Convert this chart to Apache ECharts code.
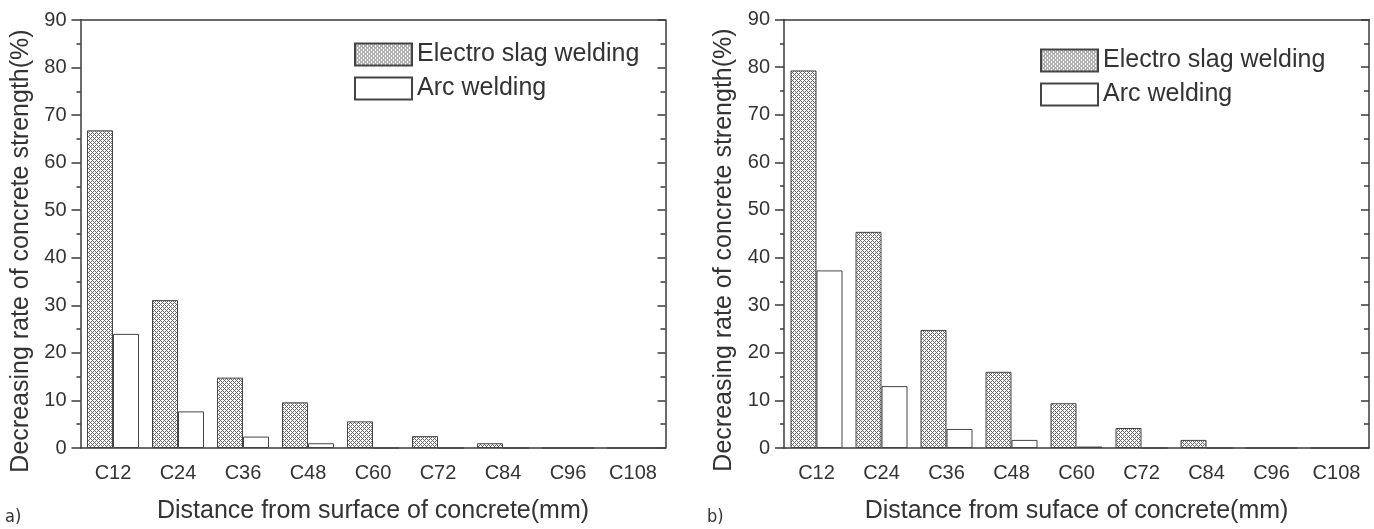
<!DOCTYPE html>
<html>
<head>
<meta charset="utf-8">
<script src="https://cdn.jsdelivr.net/npm/echarts@6/dist/echarts.min.js"></script>
<style>
  html, body { margin: 0; padding: 0; background: #fff; }
  #chart { width: 1374px; height: 529px; }
</style>
</head>
<body>
<div id="chart"></div>
<script>
var categories = ['C12', 'C24', 'C36', 'C48', 'C60', 'C72', 'C84', 'C96', 'C108'];
var seriesNames = ['Electro slag welding', 'Arc welding'];
// panel a)
var electroA = [66.8, 31.1, 14.8, 9.6, 5.6, 2.5, 1.0, 0, 0];
var arcA = [24.0, 7.7, 2.4, 1.0, 0, 0, 0, 0, 0];
// panel b)
var electroB = [79.3, 45.4, 24.8, 16.0, 9.4, 4.2, 1.7, 0, 0];
var arcB = [37.3, 13.0, 4.0, 1.7, 0.3, 0, 0, 0, 0];
var yMin = 0, yMax = 90, yStep = 10;
var xTitles = ['Distance from surface of concrete(mm)', 'Distance from suface of concrete(mm)'];
var yTitle = 'Decreasing rate of concrete strength(%)';

var FONT = '"Liberation Sans", Arial, sans-serif';
var TXT = '#333';
var LINE = '#3a3a3a';

// small cross-hatch tile
var tile = document.createElement('canvas');
tile.width = 4; tile.height = 4;
var ctx = tile.getContext('2d');
ctx.fillStyle = '#fff';
ctx.fillRect(0, 0, 4, 4);
ctx.fillStyle = '#666';
for (var x = 0; x < 4; x++) {
  for (var y = 0; y < 4; y++) {
    if ((x + y) % 4 === 0 || (x - y + 4) % 4 === 0) ctx.fillRect(x, y, 1, 1);
  }
}
var hatch = { image: tile, repeat: 'repeat' };

var grids = [
  { left: 80.5, right: 708.5, top: 20, bottom: 77.5 },
  { left: 784, right: 5, top: 19.5, bottom: 78 }
];

var xAxes = [], yAxes = [];
grids.forEach(function (g, gi) {
  // bottom: labels + ticks at centers
  xAxes.push({
    type: 'category', gridIndex: gi, position: 'bottom', data: categories,
    name: xTitles[gi], nameLocation: 'middle', nameGap: 51,
    nameTextStyle: { fontSize: 25, fontFamily: FONT, color: TXT },
    axisLine: { lineStyle: { color: LINE, width: 1.5 } },
    axisTick: { alignWithLabel: true, length: 8, lineStyle: { color: LINE, width: 1.5 } },
    axisLabel: { interval: 0, fontSize: 20, fontFamily: FONT, color: TXT, margin: 15 },
    splitLine: { show: false }
  });
  // bottom: boundary ticks
  xAxes.push({
    type: 'category', gridIndex: gi, position: 'bottom', data: categories,
    axisLine: { show: false },
    axisTick: { interval: 0, length: 5, lineStyle: { color: LINE, width: 1.5 } },
    axisLabel: { show: false }, splitLine: { show: false }
  });
  // top: center ticks inside
  xAxes.push({
    type: 'category', gridIndex: gi, position: 'top', data: categories,
    axisLine: { show: true, lineStyle: { color: LINE, width: 1.5 } },
    axisTick: { alignWithLabel: true, inside: true, length: 8, lineStyle: { color: LINE, width: 1.5 } },
    axisLabel: { show: false }, splitLine: { show: false }
  });
  // top: boundary ticks inside
  xAxes.push({
    type: 'category', gridIndex: gi, position: 'top', data: categories,
    axisLine: { show: false },
    axisTick: { interval: 0, inside: true, length: 5, lineStyle: { color: LINE, width: 1.5 } },
    axisLabel: { show: false }, splitLine: { show: false }
  });

  yAxes.push({
    type: 'value', gridIndex: gi, position: 'left', min: yMin, max: yMax, interval: yStep,
    axisLine: { show: true, lineStyle: { color: LINE, width: 1.5 } },
    axisTick: { show: true, length: 9, lineStyle: { color: LINE, width: 1.5 } },
    minorTick: { show: true, splitNumber: 2, length: 4, lineStyle: { color: LINE, width: 1.5 } },
    axisLabel: { fontSize: 20, fontFamily: FONT, color: TXT, margin: 14 },
    splitLine: { show: false }
  });
  yAxes.push({
    type: 'value', gridIndex: gi, position: 'right', min: yMin, max: yMax, interval: yStep,
    axisLine: { show: true, lineStyle: { color: LINE, width: 1.5 } },
    axisTick: { show: true, inside: true, length: 8, lineStyle: { color: LINE, width: 1.5 } },
    minorTick: { show: true, splitNumber: 2, length: 5, lineStyle: { color: LINE, width: 1.5 } },
    axisLabel: { show: false },
    splitLine: { show: false }
  });
});

function barSeries(name, data, gi, fill) {
  return {
    name: name, type: 'bar', data: data,
    xAxisIndex: gi * 4, yAxisIndex: gi * 2,
    barGap: 0, barCategoryGap: '20%',
    itemStyle: { color: fill, borderColor: '#444', borderWidth: 1 },
    emphasis: { disabled: true }
  };
}

var legendBase = {
  orient: 'vertical', icon: 'rect', itemWidth: 57, itemHeight: 22, itemGap: 9,
  padding: 0, data: seriesNames, selectedMode: false,
  textStyle: { fontSize: 25, fontFamily: FONT, color: TXT, lineHeight: 22 }
};

var option = {
  animation: false,
  backgroundColor: '#fff',
  grid: grids,
  xAxis: xAxes,
  yAxis: yAxes,
  legend: [
    Object.assign({ left: 354, top: 42 }, legendBase),
    Object.assign({ left: 1040, top: 48 }, legendBase)
  ],
  series: [
    barSeries(seriesNames[0], electroA, 0, hatch),
    barSeries(seriesNames[1], arcA, 0, '#fff'),
    barSeries(seriesNames[0], electroB, 1, hatch),
    barSeries(seriesNames[1], arcB, 1, '#fff')
  ],
  graphic: [
    { type: 'text', x: 21, y: 251, rotation: Math.PI / 2,
      style: { text: yTitle, font: '25px ' + FONT, fill: TXT, align: 'center', verticalAlign: 'middle' } },
    { type: 'text', x: 724, y: 250, rotation: Math.PI / 2,
      style: { text: yTitle, font: '25px ' + FONT, fill: TXT, align: 'center', verticalAlign: 'middle' } },
    { type: 'text', x: 5, y: 517,
      style: { text: 'a)', font: '18px "DejaVu Sans Condensed", sans-serif', fill: TXT, verticalAlign: 'middle' } },
    { type: 'text', x: 707, y: 517,
      style: { text: 'b)', font: '18px "DejaVu Sans Condensed", sans-serif', fill: TXT, verticalAlign: 'middle' } }
  ]
};

var myChart = echarts.init(document.getElementById('chart'));
myChart.setOption(option);
</script>
</body>
</html>
